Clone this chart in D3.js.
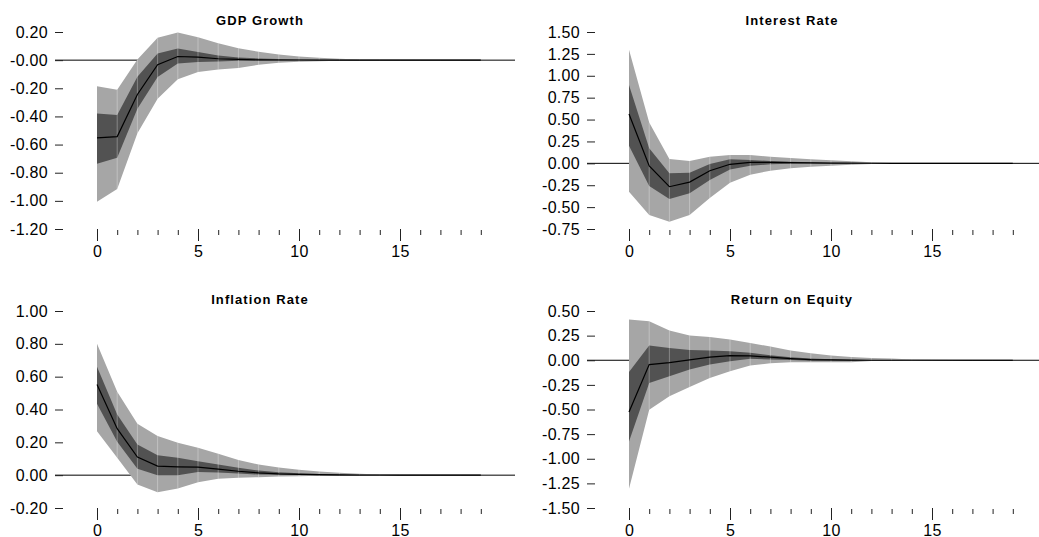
<!DOCTYPE html>
<html>
<head>
<meta charset="utf-8">
<script src="https://cdn.jsdelivr.net/npm/d3@7"></script>
<style>
  body { margin: 0; background: #fff; }
  svg { display: block; font-family: "Liberation Sans", Arial, sans-serif; }
  .tick text { font-size: 16px; letter-spacing: 0.3px; fill: #000; }
  .ptitle { font-size: 13px; font-weight: bold; letter-spacing: 1.1px; }
</style>
</head>
<body>
<script>
// horizon 0..19
var steps = d3.range(20);

// GDP Growth
var gdpMid  = [-0.552,-0.543,-0.244,-0.033,0.026,0.021,0.010,0.005,0.002,0.001,0.001,0,0,0,0,0,0,0,0,0];
var gdpHi68 = [-0.380,-0.390,-0.118,0.047,0.083,0.057,0.033,0.019,0.012,0.008,0.005,0.003,0.002,0.001,0.001,0,0,0,0,0];
var gdpLo68 = [-0.737,-0.694,-0.346,-0.120,-0.024,-0.014,-0.010,-0.005,-0.003,-0.002,-0.002,-0.001,-0.001,0,0,0,0,0,0,0];
var gdpHi95 = [-0.185,-0.210,0.005,0.159,0.197,0.163,0.120,0.085,0.060,0.040,0.026,0.017,0.010,0.005,0.003,0.002,0.001,0.001,0.001,0.001];
var gdpLo95 = [-1.007,-0.915,-0.520,-0.275,-0.135,-0.085,-0.066,-0.055,-0.033,-0.019,-0.012,-0.007,-0.005,-0.003,-0.002,-0.001,-0.001,-0.001,-0.001,-0.001];

// Interest Rate
var irMid  = [0.564,-0.030,-0.267,-0.214,-0.084,-0.011,0.011,0.011,0.008,0.005,0.003,0.002,0.001,0,0,0,0,0,0,0];
var irHi68 = [0.896,0.172,-0.114,-0.107,-0.008,0.046,0.038,0.027,0.018,0.012,0.008,0.005,0.003,0.002,0.001,0,0,0,0,0];
var irLo68 = [0.202,-0.260,-0.408,-0.343,-0.190,-0.069,-0.027,-0.011,-0.005,-0.003,-0.002,-0.001,-0.001,0,0,0,0,0,0,0];
var irHi95 = [1.297,0.465,0.050,0.027,0.076,0.095,0.095,0.076,0.061,0.046,0.034,0.023,0.011,0.005,0.003,0.002,0.001,0.001,0.001,0.001];
var irLo95 = [-0.324,-0.590,-0.667,-0.590,-0.397,-0.221,-0.130,-0.084,-0.057,-0.038,-0.027,-0.015,-0.008,-0.004,-0.002,-0.001,-0.001,-0.001,-0.001,-0.001];

// Inflation Rate
var infMid  = [0.553,0.283,0.110,0.055,0.051,0.049,0.037,0.024,0.014,0.008,0.005,0.003,0.002,0.001,0.001,0,0,0,0,0];
var infHi68 = [0.661,0.370,0.187,0.122,0.106,0.085,0.065,0.045,0.028,0.018,0.012,0.007,0.004,0.002,0.001,0.001,0,0,0,0];
var infLo68 = [0.435,0.203,0.039,0.000,0.000,0.020,0.016,0.010,0.004,0.002,0.001,0,0,0,0,0,0,0,0,0];
var infHi95 = [0.800,0.508,0.313,0.238,0.197,0.167,0.130,0.092,0.065,0.047,0.033,0.022,0.014,0.008,0.004,0.002,0.001,0.001,0.001,0.001];
var infLo95 = [0.268,0.106,-0.057,-0.104,-0.081,-0.043,-0.022,-0.016,-0.012,-0.008,-0.006,-0.004,-0.002,-0.001,-0.001,-0.001,-0.001,-0.001,-0.001,-0.001];

// Return on Equity
var roeMid  = [-0.525,-0.044,-0.024,0.003,0.031,0.047,0.044,0.031,0.017,0.007,0.003,0.001,0,0,0,0,0,0,0,0];
var roeHi68 = [-0.119,0.149,0.125,0.105,0.098,0.092,0.075,0.051,0.030,0.018,0.010,0.006,0.003,0.002,0.001,0,0,0,0,0];
var roeLo68 = [-0.824,-0.230,-0.163,-0.095,-0.044,-0.010,0.014,0.008,0.002,-0.004,-0.006,-0.006,-0.003,-0.002,-0.001,0,0,0,0,0];
var roeHi95 = [0.414,0.397,0.302,0.251,0.237,0.210,0.176,0.139,0.098,0.071,0.047,0.034,0.024,0.017,0.007,0.004,0.002,0.001,0.001,0.001];
var roeLo95 = [-1.305,-0.502,-0.366,-0.271,-0.180,-0.112,-0.054,-0.030,-0.020,-0.020,-0.020,-0.020,-0.008,-0.008,-0.004,-0.002,-0.001,-0.001,-0.001,-0.001];

// y tick values and their printed labels
var gdpTicks = [0.2, 0, -0.2, -0.4, -0.6, -0.8, -1.0, -1.2];
var gdpTickLabels = ["0.20", "-0.00", "-0.20", "-0.40", "-0.60", "-0.80", "-1.00", "-1.20"];
var irTicks = [1.5, 1.25, 1.0, 0.75, 0.5, 0.25, 0, -0.25, -0.5, -0.75];
var irTickLabels = ["1.50", "1.25", "1.00", "0.75", "0.50", "0.25", "0.00", "-0.25", "-0.50", "-0.75"];
var infTicks = [1.0, 0.8, 0.6, 0.4, 0.2, 0, -0.2];
var infTickLabels = ["1.00", "0.80", "0.60", "0.40", "0.20", "0.00", "-0.20"];
var roeTicks = [0.5, 0.25, 0, -0.25, -0.5, -0.75, -1.0, -1.25, -1.5];
var roeTickLabels = ["0.50", "0.25", "0.00", "-0.25", "-0.50", "-0.75", "-1.00", "-1.25", "-1.50"];

var panels = [
  {title: "GDP Growth", mid: gdpMid, hi68: gdpHi68, lo68: gdpLo68, hi95: gdpHi95, lo95: gdpLo95,
   ticks: gdpTicks, labels: gdpTickLabels, col: 0, row: 0},
  {title: "Interest Rate", mid: irMid, hi68: irHi68, lo68: irLo68, hi95: irHi95, lo95: irLo95,
   ticks: irTicks, labels: irTickLabels, col: 1, row: 0},
  {title: "Inflation Rate", mid: infMid, hi68: infHi68, lo68: infLo68, hi95: infHi95, lo95: infLo95,
   ticks: infTicks, labels: infTickLabels, col: 0, row: 1},
  {title: "Return on Equity", mid: roeMid, hi68: roeHi68, lo68: roeLo68, hi95: roeHi95, lo95: roeLo95,
   ticks: roeTicks, labels: roeTickLabels, col: 1, row: 1}
];

var W = 1039, H = 537;
var svg = d3.select("body").append("svg").attr("width", W).attr("height", H);

panels.forEach(function (p) {
  var dx = p.col * 532, dy = p.row * 279;
  var top = 32 + dy, bottom = 229 + dy;
  var x0 = 97 + dx;
  var axisX = 63 + dx;

  var x = d3.scaleLinear().domain([0, 19]).range([x0, x0 + 19 * 20.2]);
  var y = d3.scaleLinear().domain([d3.min(p.ticks), d3.max(p.ticks)]).range([bottom, top]);

  var g = svg.append("g");

  // zero line
  g.append("line")
    .attr("x1", axisX - 8).attr("x2", p.col ? W : 515)
    .attr("y1", y(0)).attr("y2", y(0))
    .attr("stroke", "#000").attr("stroke-width", 1);

  var band = function (lo, hi) {
    return d3.area().x(function (d) { return x(d); })
      .y0(function (d) { return y(lo[d]); })
      .y1(function (d) { return y(hi[d]); });
  };

  g.append("path").datum(steps).attr("d", band(p.lo95, p.hi95)).attr("fill", "#a6a6a6");
  g.append("path").datum(steps).attr("d", band(p.lo68, p.hi68)).attr("fill", "#525252");

  // seams between segments
  g.selectAll(".seam").data(steps.slice(1, 19)).enter().append("line")
    .attr("x1", function (d) { return x(d); }).attr("x2", function (d) { return x(d); })
    .attr("y1", function (d) { return y(p.lo95[d]); })
    .attr("y2", function (d) { return y(p.hi95[d]); })
    .attr("stroke", "#fff").attr("stroke-opacity", 0.3).attr("stroke-width", 1);

  g.append("path").datum(steps)
    .attr("d", d3.line().x(function (d) { return x(d); }).y(function (d) { return y(p.mid[d]); }))
    .attr("fill", "none").attr("stroke", "#000").attr("stroke-width", 1.2);

  // y axis
  var yAxis = d3.axisLeft(y).tickValues(p.ticks)
    .tickFormat(function (d, i) { return p.labels[i]; })
    .tickSizeInner(8).tickSizeOuter(0).tickPadding(7);
  var ya = g.append("g").attr("transform", "translate(" + axisX + ",0)").call(yAxis);
  ya.select(".domain").remove();
  ya.selectAll(".tick line").attr("stroke", "#222");

  // x axis
  var xAxis = d3.axisBottom(x).tickValues(steps)
    .tickFormat(function (d) { return d % 5 === 0 ? d : ""; })
    .tickSizeInner(12).tickSizeOuter(0);
  var xa = g.append("g").attr("transform", "translate(0," + bottom + ")").call(xAxis);
  xa.select(".domain").remove();
  xa.selectAll(".tick line")
    .attr("stroke", "#222")
    .attr("y1", function (d) { return d % 5 === 0 ? 0 : 1; })
    .attr("y2", function (d) { return d % 5 === 0 ? 12 : 6; });
  xa.selectAll(".tick text").attr("y", 27.5).attr("dy", null);

  g.append("text").attr("class", "ptitle")
    .attr("x", 260 + dx).attr("y", 25 + dy)
    .attr("text-anchor", "middle")
    .text(p.title);
});
</script>
</body>
</html>
